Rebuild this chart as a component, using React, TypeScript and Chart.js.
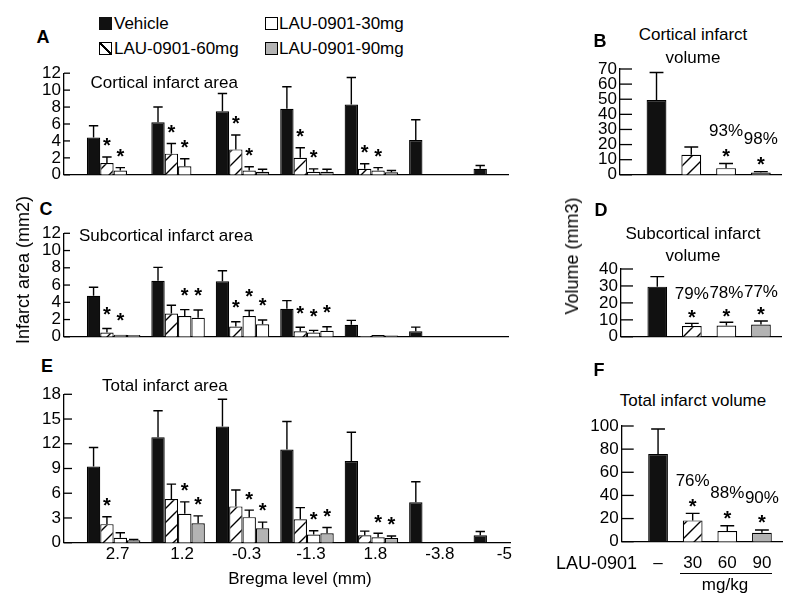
import React, { useEffect, useRef } from 'react';
import { Chart, registerables } from 'chart.js';
Chart.register(...registerables);

const FONT = '"Liberation Sans", Arial, Helvetica, sans-serif';

// ---------- data ----------
const bregmaLabels = ['2.7', '1.2', '-0.3', '-1.3', '1.8', '-3.8', '-5'];
const doseLabels = ['–', '30', '60', '90'];

// Panel A: cortical infarct area (mm2); order in each group: Vehicle, 60mg, 30mg, 90mg
const cortVehicle = [4.4, 6.2, 7.5, 7.8, 8.3, 4.1, 0.7];
const cortVehicleErr = [1.4, 1.8, 2.1, 2.6, 3.2, 2.4, 0.4];
const cort60 = [1.4, 2.5, 3.0, 2.0, 0.7, null, null];
const cort60Err = [0.7, 1.2, 1.7, 1.2, 0.6, 0, 0];
const cort30 = [0.5, 1.0, 0.5, 0.35, 0.5, null, null];
const cort30Err = [0.35, 0.9, 0.45, 0.35, 0.35, 0, 0];
const cort90 = [null, null, 0.35, 0.35, 0.3, null, null];
const cort90Err = [0, 0, 0.3, 0.3, 0.2, 0, 0];
const cortStars60 = [1, 1, 1, 1, 1, 0, 0];
const cortStars30 = [1, 1, 1, 1, 1, 0, 0];
const cortStars90 = [0, 0, 0, 0, 0, 0, 0];

// Panel C: subcortical infarct area (mm2)
const subVehicle = [4.75, 6.5, 6.45, 3.25, 1.4, 0.65, null];
const subVehicleErr = [1.0, 1.55, 1.2, 0.95, 0.5, 0.47, 0];
const sub60 = [0.5, 2.7, 1.2, 0.65, 0.1, null, null];
const sub60Err = [0.47, 0.95, 0.55, 0.45, 0, 0, 0];
const sub30 = [0.25, 2.4, 2.4, 0.5, 0.2, null, null];
const sub30Err = [0, 0.75, 0.65, 0.25, 0, 0, 0];
const sub90 = [0.22, 2.2, 1.45, 0.7, 0.15, null, null];
const sub90Err = [0, 0.9, 0.5, 0.47, 0, 0, 0];
const subStars60 = [1, 0, 1, 1, 0, 0, 0];
const subStars30 = [1, 1, 1, 1, 0, 0, 0];
const subStars90 = [0, 1, 1, 1, 0, 0, 0];

// Panel E: total infarct area (mm2)
const totVehicle = [9.25, 12.8, 14.1, 11.3, 9.9, 4.9, 0.9];
const totVehicleErr = [2.3, 3.2, 3.3, 3.4, 3.5, 2.5, 0.45];
const tot60 = [2.25, 5.3, 4.4, 2.85, 0.9, null, null];
const tot60Err = [0.9, 1.8, 2.0, 1.4, 0.5, 0, 0];
const tot30 = [0.6, 3.5, 3.1, 1.0, 0.65, null, null];
const tot30Err = [0.6, 1.45, 0.85, 0.45, 0.5, 0, 0];
const tot90 = [0.3, 2.35, 1.75, 1.15, 0.57, null, null];
const tot90Err = [0.1, 0.9, 0.75, 0.7, 0.25, 0, 0];
const totStars60 = [1, 0, 0, 0, 0, 0, 0];
const totStars30 = [0, 1, 1, 1, 1, 0, 0];
const totStars90 = [0, 1, 1, 1, 1, 0, 0];

// Panels B, D, F: volumes (mm3); order: Vehicle, 60mg(hatched), 30mg, 90mg
const cortVol = [49.5, 13.2, 4.4, 1.5];
const cortVolErr = [18.2, 5.2, 3.1, 0.6];
const cortVolStars = [0, 0, 1, 1];
const cortVolPct = ['', '', '93%', '98%'];

const subVol = [29.6, 6.3, 6.6, 7.2];
const subVolErr = [5.9, 1.6, 2.0, 2.1];
const subVolStars = [0, 1, 1, 1];
const subVolPct = ['', '79%', '78%', '77%'];

const totVol = [75.8, 18.4, 9.2, 7.8];
const totVolErr = [21.6, 6.1, 4.6, 2.3];
const totVolStars = [0, 1, 1, 1];
const totVolPct = ['', '76%', '88%', '90%'];

// ---------- styles ----------
const BLACK = '#111';
const GRAY = '#b3b3b3';
const WHITE = '#fff';

function makeHatch(): CanvasPattern | string {
  const s = 14;
  const c = document.createElement('canvas');
  c.width = s;
  c.height = s;
  const g = c.getContext('2d');
  if (!g) return WHITE;
  g.fillStyle = '#fff';
  g.fillRect(0, 0, s, s);
  g.strokeStyle = '#000';
  g.lineWidth = 1.4;
  g.beginPath();
  g.moveTo(0, s);
  g.lineTo(s, 0);
  g.moveTo(-2, 2);
  g.lineTo(2, -2);
  g.moveTo(s - 2, s + 2);
  g.lineTo(s + 2, s - 2);
  g.stroke();
  return g.createPattern(c, 'repeat') || WHITE;
}

function decorPlugin(errors: number[][], stars: number[][], pct: string[][] | null, tickLen: number, starOff: number, pctOff: number) {
  return {
    id: 'decor',
    afterDatasetsDraw(chart: any) {
      const { ctx, chartArea, scales } = chart;
      const y = scales.y;
      ctx.save();
      ctx.strokeStyle = '#000';
      ctx.lineWidth = 1.3;
      for (const t of y.ticks) {
        const py = y.getPixelForValue(t.value);
        ctx.beginPath();
        ctx.moveTo(chartArea.left, py);
        ctx.lineTo(chartArea.left + tickLen, py);
        ctx.stroke();
      }
      chart.data.datasets.forEach((ds: any, d: number) => {
        const meta = chart.getDatasetMeta(d);
        meta.data.forEach((el: any, i: number) => {
          const raw = ds.data[i];
          const v = raw ? raw.y : null;
          if (v === null || v === undefined) return;
          const e = (errors[d] && errors[d][i]) || 0;
          const topPx = y.getPixelForValue(v + e);
          if (e > 0) {
            const cw = el.width * 0.7;
            ctx.lineWidth = 1.4;
            ctx.beginPath();
            ctx.moveTo(el.x, el.y);
            ctx.lineTo(el.x, topPx);
            ctx.moveTo(el.x - cw / 2, topPx);
            ctx.lineTo(el.x + cw / 2, topPx);
            ctx.stroke();
          }
          if (stars[d] && stars[d][i]) {
            const sc = topPx - starOff;
            const size = 20;
            ctx.fillStyle = '#000';
            ctx.font = `bold ${size}px ${FONT}`;
            ctx.textAlign = 'center';
            ctx.textBaseline = 'alphabetic';
            ctx.fillText('*', el.x, sc + 0.57 * size);
            const p = pct && pct[d] ? pct[d][i] : '';
            if (p) {
              ctx.font = `17px ${FONT}`;
              ctx.textBaseline = 'middle';
              ctx.fillText(p, el.x, sc - pctOff);
            }
          }
        });
      });
      ctx.restore();
    },
  };
}

type PanelOpts = {
  series: (number | null)[][];
  colors: any[];
  errors: number[][];
  stars: number[][];
  pct: string[][] | null;
  xMin: number;
  xMax: number;
  nTicks: number;
  labels: string[] | null;
  labelOffset: number;
  xPad: number;
  xHeight: number;
  yMax: number;
  yStep: number;
  yWidth: number;
  pad: { left: number; top: number; right: number; bottom: number };
  tickLen: number;
  starOff: number;
  pctOff: number;
  catPct: number;
  barPct: number;
};

function buildConfig(p: PanelOpts): any {
  const tickVals = Array.from({ length: p.nTicks }, (_, i) => i);
  return {
    type: 'bar',
    data: {
      datasets: p.series.map((s, d) => ({
        data: s.map((v, i) => ({ x: i, y: v })),
        backgroundColor: p.colors[d],
        borderColor: '#000',
        borderWidth: 1.2,
        categoryPercentage: p.catPct,
        barPercentage: p.barPct,
      })),
    },
    options: {
      responsive: false,
      maintainAspectRatio: false,
      animation: false,
      events: [],
      layout: { padding: p.pad },
      plugins: { legend: { display: false }, tooltip: { enabled: false }, title: { display: false } },
      scales: {
        x: {
          type: 'linear',
          offset: false,
          min: p.xMin,
          max: p.xMax,
          grid: { display: false, drawTicks: false },
          border: { display: true, color: '#000', width: 1.3 },
          afterBuildTicks: (s: any) => {
            s.ticks = tickVals.map((v) => ({ value: v }));
          },
          afterFit: (s: any) => {
            s.height = p.xHeight;
          },
          ticks: {
            display: !!p.labels,
            autoSkip: false,
            maxRotation: 0,
            minRotation: 0,
            padding: p.xPad,
            labelOffset: p.labelOffset,
            color: '#000',
            font: { family: FONT, size: 17 },
            callback: (v: any) => (p.labels ? p.labels[v] ?? '' : ''),
          },
        },
        y: {
          min: 0,
          max: p.yMax,
          grid: { display: false, drawTicks: false },
          border: { display: true, color: '#000', width: 1.3 },
          afterFit: (s: any) => {
            s.width = p.yWidth;
          },
          ticks: {
            stepSize: p.yStep,
            autoSkip: false,
            padding: 3,
            color: '#000',
            font: { family: FONT, size: 17 },
          },
        },
      },
    },
    plugins: [decorPlugin(p.errors, p.stars, p.pct, p.tickLen, p.starOff, p.pctOff)],
  };
}

const T = (props: { x: number; y: number; s: string; size?: number; bold?: boolean; align?: 'left' | 'center' | 'right'; rotate?: boolean }) => {
  const { x, y, s, size = 17, bold = false, align = 'left', rotate = false } = props;
  const tx = rotate ? '-50%' : align === 'left' ? '0' : align === 'center' ? '-50%' : '-100%';
  return (
    <div
      style={{
        position: 'absolute',
        left: x,
        top: y,
        fontSize: size,
        fontWeight: bold ? 700 : 400,
        lineHeight: 1,
        whiteSpace: 'nowrap',
        transform: `translate(${tx}, -50%)${rotate ? ' rotate(-90deg)' : ''}`,
      }}
    >
      {s}
    </div>
  );
};

const Swatch = (props: { x: number; y: number; bg: string; border?: boolean }) => (
  <div
    style={{
      position: 'absolute',
      left: props.x,
      top: props.y,
      width: 13,
      height: 13,
      boxSizing: 'border-box',
      border: props.border ? '1.3px solid #000' : 'none',
      background: props.bg,
    }}
  />
);

export default function App() {
  const refA = useRef<HTMLCanvasElement>(null);
  const refB = useRef<HTMLCanvasElement>(null);
  const refC = useRef<HTMLCanvasElement>(null);
  const refD = useRef<HTMLCanvasElement>(null);
  const refE = useRef<HTMLCanvasElement>(null);
  const refF = useRef<HTMLCanvasElement>(null);

  useEffect(() => {
    const hatch = makeHatch();
    const groupColors = [BLACK, hatch, WHITE, GRAY];
    const groupColorsC = [BLACK, hatch, WHITE, WHITE];
    const volColors = [[BLACK, hatch, WHITE, GRAY]];
    const leftCommon = { xMin: -0.77, nTicks: 7, yWidth: 64, catPct: 0.83, barPct: 1, pctOff: 20, labelOffset: 0 };
    const rightCommon = { xMin: -1.05, xMax: 3.58, nTicks: 4, catPct: 1, barPct: 0.57, tickLen: 12, starOff: 12, pctOff: 20, labelOffset: 0 };

    const charts: Chart[] = [];
    if (refA.current)
      charts.push(
        new Chart(refA.current, buildConfig({
          ...leftCommon,
          series: [cortVehicle, cort60, cort30, cort90],
          colors: groupColors,
          errors: [cortVehicleErr, cort60Err, cort30Err, cort90Err],
          stars: [[], cortStars60, cortStars30, cortStars90],
          pct: null,
          xMax: 6.12,
          labels: null,
          xPad: 1,
          xHeight: 0,
          yMax: 12,
          yStep: 2,
          pad: { left: 0, top: 11, right: 32, bottom: 7.7 },
          tickLen: 6,
          starOff: 16,
        }))
      );
    if (refC.current)
      charts.push(
        new Chart(refC.current, buildConfig({
          ...leftCommon,
          series: [subVehicle, sub60, sub30, sub90],
          colors: groupColorsC,
          errors: [subVehicleErr, sub60Err, sub30Err, sub90Err],
          stars: [[], subStars60, subStars30, subStars90],
          pct: null,
          xMax: 6.12,
          labels: null,
          xPad: 1,
          xHeight: 0,
          yMax: 12,
          yStep: 2,
          pad: { left: 0, top: 13.3, right: 32, bottom: 6.3 },
          tickLen: 6,
          starOff: 19,
        }))
      );
    if (refE.current)
      charts.push(
        new Chart(refE.current, buildConfig({
          ...leftCommon,
          series: [totVehicle, tot60, tot30, tot90],
          colors: groupColors,
          errors: [totVehicleErr, tot60Err, tot30Err, tot90Err],
          stars: [[], totStars60, totStars30, totStars90],
          pct: null,
          xMax: 6.15,
          labels: bregmaLabels,
          labelOffset: 4,
          xPad: 1,
          xHeight: 27.3,
          yMax: 18,
          yStep: 3,
          pad: { left: 0, top: 14.3, right: 30, bottom: 0 },
          tickLen: 8,
          starOff: 16,
        }))
      );
    if (refB.current)
      charts.push(
        new Chart(refB.current, buildConfig({
          ...rightCommon,
          series: [cortVol],
          colors: volColors,
          errors: [cortVolErr],
          stars: [cortVolStars],
          pct: [cortVolPct],
          labels: null,
          xPad: 1,
          xHeight: 0,
          yMax: 70,
          yStep: 10,
          yWidth: 60,
          pad: { left: 0, top: 19, right: 19, bottom: 7.7 },
        }))
      );
    if (refD.current)
      charts.push(
        new Chart(refD.current, buildConfig({
          ...rightCommon,
          series: [subVol],
          colors: volColors,
          errors: [subVolErr],
          stars: [subVolStars],
          pct: [subVolPct],
          labels: null,
          xPad: 1,
          xHeight: 0,
          yMax: 40,
          yStep: 10,
          yWidth: 61,
          pad: { left: 0, top: 19, right: 19, bottom: 6.7 },
          starOff: 11,
          pctOff: 18,
        }))
      );
    if (refF.current)
      charts.push(
        new Chart(refF.current, buildConfig({
          ...rightCommon,
          series: [totVol],
          colors: volColors,
          errors: [totVolErr],
          stars: [totVolStars],
          pct: [totVolPct],
          labels: doseLabels,
          xPad: 11,
          xHeight: 58.3,
          yMax: 100,
          yStep: 20,
          yWidth: 61.7,
          pad: { left: 0, top: 16, right: 18, bottom: 0 },
        }))
      );
    return () => charts.forEach((c) => c.destroy());
  }, []);

  const cv = (left: number, top: number): React.CSSProperties => ({ position: 'absolute', left, top });
  const hatchBg = 'linear-gradient(to top right, #fff calc(50% - 0.8px), #000 calc(50% - 0.8px), #000 calc(50% + 0.8px), #fff calc(50% + 0.8px))';

  return (
    <div
      style={{
        position: 'fixed',
        left: 0,
        top: 0,
        width: 800,
        height: 607,
        background: '#fff',
        overflow: 'hidden',
        fontFamily: FONT,
        color: '#000',
      }}
    >
      <canvas ref={refA} width={540} height={128} style={cv(0, 60)} />
      <canvas ref={refC} width={540} height={130} style={cv(0, 220)} />
      <canvas ref={refE} width={540} height={190} style={cv(0, 380)} />
      <canvas ref={refB} width={240} height={138} style={cv(560, 50)} />
      <canvas ref={refD} width={240} height={100} style={cv(560, 250)} />
      <canvas ref={refF} width={240} height={190} style={cv(560, 410)} />

      {/* legend */}
      <Swatch x={99} y={17} bg={BLACK} />
      <T x={114} y={23} s="Vehicle" />
      <Swatch x={265} y={17} bg={WHITE} border />
      <T x={279} y={23} s="LAU-0901-30mg" />
      <Swatch x={99} y={42} bg={hatchBg} border />
      <T x={114} y={48} s="LAU-0901-60mg" />
      <Swatch x={265} y={42} bg={GRAY} border />
      <T x={279} y={48} s="LAU-0901-90mg" />

      {/* panel letters */}
      <T x={43} y={37} s="A" size={18} bold align="center" />
      <T x={600} y={41} s="B" size={18} bold align="center" />
      <T x={46} y={209} s="C" size={18} bold align="center" />
      <T x={601} y={210} s="D" size={18} bold align="center" />
      <T x={47} y={366} s="E" size={18} bold align="center" />
      <T x={599} y={370} s="F" size={18} bold align="center" />

      {/* panel titles */}
      <T x={90.5} y={82} s="Cortical infarct area" />
      <T x={79} y={235} s="Subcortical infarct area" />
      <T x={102} y={385} s="Total infarct area" />
      <T x={693} y={34} s="Cortical infarct" align="center" />
      <T x={693} y={57} s="volume" align="center" />
      <T x={693} y={233} s="Subcortical infarct" align="center" />
      <T x={693} y={255} s="volume" align="center" />
      <T x={693} y={400} s="Total infarct volume" align="center" />

      {/* axis titles */}
      <T x={23} y={270} s="Infarct area (mm2)" size={18} rotate />
      <T x={572} y={256} s="Volume (mm3)" size={18} rotate />
      <T x={300} y={578} s="Bregma level (mm)" align="center" />
      <T x={556} y={563} s="LAU-0901" size={18} />
      <div style={{ position: 'absolute', left: 680, top: 573, width: 92, height: 1.4, background: '#000' }} />
      <T x={725} y={584} s="mg/kg" align="center" />
    </div>
  );
}
